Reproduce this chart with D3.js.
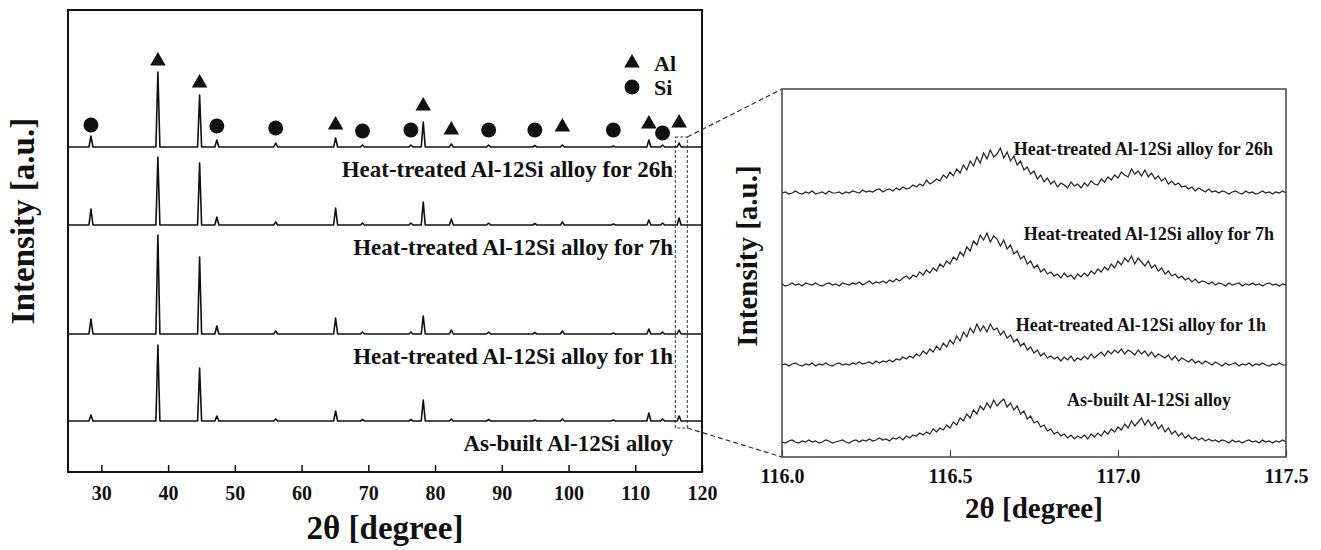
<!DOCTYPE html>
<html><head><meta charset="utf-8">
<script src="https://cdn.jsdelivr.net/npm/d3@7"></script>
<style>
body{margin:0;background:#fff}
svg text{font-family:"Liberation Serif","Times New Roman",serif;font-weight:bold;fill:#111}
</style>
</head><body>
<svg id="chart" width="1321" height="550" font-family="Liberation Serif, serif"></svg>
<script>
// ---------- data : full-range XRD patterns (2θ 25–120°) ----------
const peakPositions = [28.44, 38.47, 44.72, 47.30, 56.12, 65.10, 69.13, 76.38, 78.23, 82.44, 88.03, 94.95, 99.08, 106.71, 112.04, 114.09, 116.57];
const sampleLabels = ["Heat-treated Al-12Si alloy for 26h", "Heat-treated Al-12Si alloy for 7h", "Heat-treated Al-12Si alloy for 1h", "As-built Al-12Si alloy"];
const sampleOffsets = [650, 494, 276, 102];
const int26h   = [22, 150, 104, 14, 8, 18, 4, 4, 50, 6, 4, 3, 4, 2, 14, 4, 8];
const int7h    = [32, 136, 124, 16, 6, 34, 4, 4, 46, 12, 4, 3, 6, 2, 10, 4, 14];
const int1h    = [30, 198, 154, 16, 6, 32, 4, 4, 36, 8, 4, 3, 6, 2, 10, 4, 8];
const intBuilt = [12, 152, 106, 10, 4, 20, 3, 3, 42, 4, 3, 2, 4, 2, 16, 4, 10];

// phase markers (level above the top pattern baseline, a.u.)
const alPeaks = [38.47, 44.72, 65.10, 78.23, 82.44, 99.08, 112.04, 116.57];
const alMarkerLevel = [172, 128, 44, 82, 34, 40, 46, 48];
const siPeaks = [28.44, 47.30, 56.12, 69.13, 76.38, 88.03, 94.95, 106.71, 114.09];
const siMarkerLevel = [44, 42, 38, 32, 34, 34, 34, 34, 28];
const legendItems = ["Al", "Si"];

const xTicksLeft = [30, 40, 50, 60, 70, 80, 90, 100, 110, 120];

// ---------- data : zoomed region 116.0–117.5° (step 0.01°) ----------
const zoomStart = 116.0, zoomStep = 0.01;
const zoomOffsets = [263, 171, 91, 14];
const z26h = [1,2,0,1,3,1,0,2,1,3, 0,1,2,0,3,1,1,2,0,2, 1,3,2,1,4,2,3,2,4,5, 2,4,5,3,6,4,7,5,6,9,
  7,10,8,14,10,12,15,13,19,16, 22,18,25,21,29,24,33,28,37,31, 41,35,44,37,40,46,36,42,33,38,
  29,33,24,27,20,23,15,19,12,16, 10,13,7,11,9,6,12,8,10,6, 11,8,13,10,9,15,12,17,14,19,
  16,22,19,17,25,20,23,18,24,17, 21,15,18,13,16,10,13,9,11,7, 8,5,7,3,6,4,2,5,2,3,
  1,3,2,0,2,3,1,0,3,1, 2,0,1,3,1,2,0,2,1,3,1];
const z7h = [2,0,1,3,1,2,0,3,2,1, 3,1,0,2,3,1,2,0,3,2, 1,3,2,4,1,3,5,2,4,3, 5,3,6,4,7,5,8,10,7,11,
  9,14,11,16,13,18,15,22,19,25, 22,29,26,34,30,39,35,45,41,51, 46,53,44,50,47,40,46,37,41,32,
  35,27,30,22,25,18,21,14,17,12, 14,10,12,8,13,9,11,7,12,9, 13,10,15,12,17,14,19,16,22,18,
  25,21,28,24,30,22,28,24,20,25, 18,21,15,18,12,15,10,12,8,10, 6,8,4,7,3,5,4,2,4,1,
  3,2,0,3,1,2,3,0,2,1, 3,1,2,0,2,3,1,2,0,2,1];
const z1h = [1,2,0,2,3,1,0,2,1,3, 0,2,1,3,1,0,2,3,1,2, 1,3,2,4,2,3,4,2,5,3, 5,4,6,4,7,6,9,7,10,8,
  12,10,15,12,17,14,20,16,23,19, 26,22,30,25,34,29,38,33,42,35, 40,34,42,36,38,31,35,28,31,24,
  27,20,23,16,19,13,16,10,13,8, 10,7,9,5,9,6,10,5,8,6, 10,7,12,8,11,14,10,15,12,16,
  13,17,12,16,14,11,16,12,15,10, 14,9,12,10,8,11,6,10,5,8, 6,4,7,3,5,2,5,3,1,4,
  2,0,3,1,2,3,0,2,1,3, 0,2,1,3,1,0,2,1,3,1,1];
const zBuilt = [1,0,2,3,1,0,2,1,3,1, 2,0,1,3,2,0,1,2,3,1, 0,2,3,1,3,2,4,2,3,5, 3,4,2,5,4,6,3,7,5,8,
  7,10,8,11,9,14,11,15,13,18, 15,21,18,25,22,29,25,33,29,37, 33,40,35,43,37,41,44,36,40,33,
  37,29,32,24,27,20,22,16,18,12, 14,9,11,7,9,5,8,4,7,5, 8,4,9,6,10,7,12,9,14,11,
  16,13,19,15,22,17,21,25,18,23, 17,21,14,18,11,15,9,12,7,10, 5,8,4,6,3,5,2,4,2,3,
  1,3,2,0,3,1,2,0,2,3, 1,2,0,3,1,2,0,2,1,3,1];
const xTicksRight = [116.0, 116.5, 117.0, 117.5];
const zoomWindow = [116.0, 117.8];

// ---------- drawing ----------
const svg = d3.select("#chart");
const L = {x0: 68, x1: 702, y0: 10, y1: 472};
const R = {x0: 782, x1: 1286, y0: 89, y1: 457};

const xL = d3.scaleLinear().domain([25, 120]).range([L.x0, L.x1]);
const yL = d3.scaleLinear().domain([0, 924]).range([L.y1, L.y0]);
const xR = d3.scaleLinear().domain([116, 117.5]).range([R.x0, R.x1]);
const yR = d3.scaleLinear().domain([0, 368]).range([R.y1, R.y0]);

// ----- left panel -----
const HW = 0.3;
function patternPoints(heights) {
  const pts = [[25, 0]];
  peakPositions.forEach((p, i) => { pts.push([p - HW, 0], [p, heights[i]], [p + HW, 0]); });
  pts.push([120, 0]);
  return pts;
}
const patterns = [int26h, int7h, int1h, intBuilt];
const leftG = svg.append("g");
patterns.forEach((h, k) => {
  const line = d3.line().x(d => xL(d[0])).y(d => yL(d[1] + sampleOffsets[k]));
  leftG.append("path").attr("d", line(patternPoints(h)))
    .attr("fill", "none").attr("stroke", "#111").attr("stroke-width", 1.6).attr("stroke-linejoin", "round");
  leftG.append("text").attr("x", 673).attr("y", yL(sampleOffsets[k]) + 30)
    .attr("text-anchor", "end").attr("font-size", 23).text(sampleLabels[k]);
});

// markers
const triSym = d3.symbol().type(d3.symbolTriangle).size(105);
const cirSym = d3.symbol().type(d3.symbolCircle).size(175);
leftG.selectAll(".al").data(alPeaks).enter().append("path")
  .attr("d", triSym).attr("fill", "#111")
  .attr("transform", (d, i) => `translate(${xL(d)},${yL(sampleOffsets[0] + alMarkerLevel[i])})`);
leftG.selectAll(".si").data(siPeaks).enter().append("path")
  .attr("d", cirSym).attr("fill", "#111")
  .attr("transform", (d, i) => `translate(${xL(d)},${yL(sampleOffsets[0] + siMarkerLevel[i])})`);

// legend
const lg = leftG.append("g").attr("transform", "translate(632,63)");
legendItems.forEach((t, i) => {
  lg.append("path").attr("d", i === 0 ? triSym : cirSym).attr("fill", "#111")
    .attr("transform", `translate(0,${i * 24})`);
  lg.append("text").attr("x", 22).attr("y", i * 24 + 8).attr("font-size", 22).text(t);
});

// frame + axis
leftG.append("rect").attr("x", L.x0).attr("y", L.y0).attr("width", L.x1 - L.x0).attr("height", L.y1 - L.y0)
  .attr("fill", "none").attr("stroke", "#111").attr("stroke-width", 2);
const axL = svg.append("g").attr("transform", `translate(0,${L.y1})`)
  .call(d3.axisBottom(xL).tickValues(xTicksLeft).tickSize(-7).tickPadding(14).tickFormat(d3.format("d")));
axL.attr("font-family", null);
axL.select(".domain").remove();
axL.selectAll("line").attr("stroke", "#111").attr("stroke-width", 1.5);
axL.selectAll("text").attr("font-size", 20).attr("fill", "#111")
  .style("font-family", '"Liberation Serif",serif').style("font-weight", "bold");

svg.append("text").attr("x", (L.x0 + L.x1) / 2).attr("y", 539).attr("text-anchor", "middle")
  .attr("font-size", 33).text("2θ [degree]");
svg.append("text").attr("transform", `translate(34,${221}) rotate(-90)`).attr("text-anchor", "middle")
  .attr("font-size", 33).text("Intensity [a.u.]");

// zoom window + connectors
const zx0 = xL(zoomWindow[0]), zx1 = xL(zoomWindow[1]);
const zy0 = yL(sampleOffsets[0] + 20), zy1 = yL(sampleOffsets[3] - 14);
svg.append("rect").attr("x", zx0).attr("y", zy0).attr("width", zx1 - zx0).attr("height", zy1 - zy0)
  .attr("fill", "none").attr("stroke", "#333").attr("stroke-width", 1).attr("stroke-dasharray", "3,2");
svg.append("line").attr("x1", zx1).attr("y1", zy0).attr("x2", R.x0).attr("y2", R.y0)
  .attr("stroke", "#333").attr("stroke-width", 1.2).attr("stroke-dasharray", "5,3");
svg.append("line").attr("x1", zx1).attr("y1", zy1).attr("x2", R.x0).attr("y2", R.y1)
  .attr("stroke", "#333").attr("stroke-width", 1.2).attr("stroke-dasharray", "5,3");

// ----- right panel -----
const zoomSeries = [z26h, z7h, z1h, zBuilt];
const zoomLabelRight = [1273, 1274, 1266, 1231];
const zoomLabelDy = [-39, -46, -35, -37];
const rightG = svg.append("g");
zoomSeries.forEach((vals, k) => {
  const line = d3.line().x((d, i) => xR(zoomStart + i * zoomStep)).y(d => yR(d + zoomOffsets[k]));
  rightG.append("path").attr("d", line(vals)).attr("fill", "none")
    .attr("stroke", "#222").attr("stroke-width", 1.2).attr("stroke-linejoin", "miter");
  rightG.append("text").attr("x", zoomLabelRight[k]).attr("y", yR(zoomOffsets[k]) + zoomLabelDy[k])
    .attr("text-anchor", "end").attr("font-size", 18).text(sampleLabels[k]);
});
rightG.append("rect").attr("x", R.x0).attr("y", R.y0).attr("width", R.x1 - R.x0).attr("height", R.y1 - R.y0)
  .attr("fill", "none").attr("stroke", "#444").attr("stroke-width", 1.5);
const axR = svg.append("g").attr("transform", `translate(0,${R.y1})`)
  .call(d3.axisBottom(xR).tickValues(xTicksRight).tickSize(-7).tickPadding(12).tickFormat(d3.format(".1f")));
axR.attr("font-family", null);
axR.select(".domain").remove();
axR.selectAll("line").attr("stroke", "#444").attr("stroke-width", 1.2);
axR.selectAll("text").attr("font-size", 20).attr("fill", "#111")
  .style("font-family", '"Liberation Serif",serif').style("font-weight", "bold");
svg.append("text").attr("x", (R.x0 + R.x1) / 2).attr("y", 518).attr("text-anchor", "middle")
  .attr("font-size", 29).text("2θ [degree]");
svg.append("text").attr("transform", `translate(757,256) rotate(-90)`).attr("text-anchor", "middle")
  .attr("font-size", 29).text("Intensity [a.u.]");
</script>
</body></html>
